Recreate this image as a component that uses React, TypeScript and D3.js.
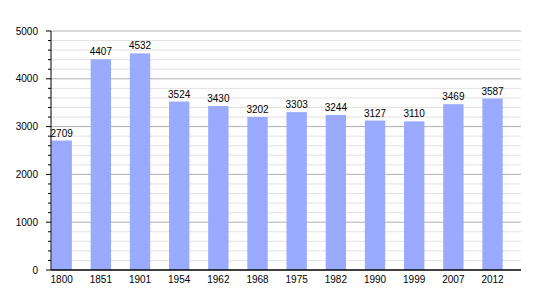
import React from "react";
import * as d3 from "d3";

const years = ["1800", "1851", "1901", "1954", "1962", "1968", "1975", "1982", "1990", "1999", "2007", "2012"];
const population = [2709, 4407, 4532, 3524, 3430, 3202, 3303, 3244, 3127, 3110, 3469, 3587];
const yMajorTicks = [0, 1000, 2000, 3000, 4000, 5000];

export default function App() {
  const W = 550, H = 300;
  const left = 51, right = 521, top = 31, bottom = 270;
  const x = d3.scaleBand<string>().domain(years).range([left, right]).paddingInner(0).paddingOuter(0);
  const y = d3.scaleLinear().domain([0, 5000]).range([bottom, top]);
  const minorTicks = d3.range(0, 5001, 200).filter((v) => v % 1000 !== 0);
  const bw = x.step() * 0.52;
  const font = "'Liberation Sans', Arial, sans-serif";
  return (
    <svg width={W} height={H} style={{ position: "absolute", left: 0, top: 0 }} fontFamily={font}>
      <rect width={W} height={H} fill="#fff" />
      {minorTicks.map((v) => (
        <g key={"m" + v}>
          <line x1={left} x2={right} y1={y(v)} y2={y(v)} stroke="#e2e2e2" strokeWidth={1} />
          <line x1={left - 3} x2={left} y1={y(v)} y2={y(v)} stroke="#000" strokeWidth={1} />
        </g>
      ))}
      {yMajorTicks.map((v) => (
        <g key={"M" + v}>
          {v > 0 && <line x1={left} x2={right} y1={y(v)} y2={y(v)} stroke="#b0b0b0" strokeWidth={1} />}
          <line x1={left - 5} x2={left} y1={y(v)} y2={y(v)} stroke="#000" strokeWidth={1} />
          <text x={38} y={y(v) + 3.5} textAnchor="end" fontSize={10} fill="#000">{v}</text>
        </g>
      ))}
      {years.map((yr, i) => {
        const x0 = x(yr)! + 0.5;
        const v = population[i];
        return (
          <g key={yr}>
            <rect x={x0} y={y(v)} width={bw} height={bottom - y(v)} fill="#99aaff" />
            <text x={x0 + bw / 2} y={y(v) - 4} textAnchor="middle" fontSize={10} fill="#000">{v}</text>
            <text x={x0 + bw / 2} y={283} textAnchor="middle" fontSize={10} fill="#000">{yr}</text>
          </g>
        );
      })}
      <line x1={left} x2={left} y1={top} y2={bottom} stroke="#000" strokeWidth={1} />
      <line x1={left} x2={right} y1={bottom} y2={bottom} stroke="#000" strokeWidth={1.5} />
    </svg>
  );
}
